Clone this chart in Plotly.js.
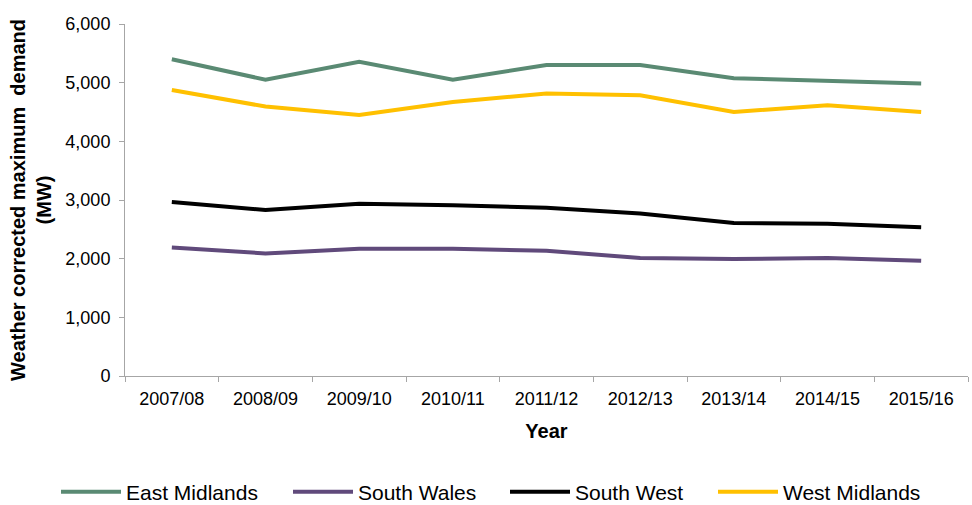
<!DOCTYPE html>
<html><head><meta charset="utf-8">
<script src="https://cdn.plot.ly/plotly-3.0.1.min.js"></script>
<style>body{margin:0;background:#fff}#c{width:972px;height:505px}</style>
</head><body><div id="c"></div>
<script>
const years = ["2007/08","2008/09","2009/10","2010/11","2011/12","2012/13","2013/14","2014/15","2015/16"];
const eastMidlands = [5400,5050,5355,5050,5300,5300,5075,5030,4985];
const southWales = [2190,2090,2170,2170,2135,2012,1995,2012,1966];
const southWest = [2966,2830,2935,2912,2868,2770,2610,2594,2537];
const westMidlands = [4875,4593,4451,4672,4814,4785,4502,4615,4502];
const seriesNames = ["East Midlands","South Wales","South West","West Midlands"];
const colors = ["#5A8A73","#604A7B","#000000","#FFC000"];
const FONT = '"Liberation Sans", Arial, sans-serif';
const legendIds = ['legend','legend2','legend3','legend4'];
const legendX = [56, 288, 505, 713];
const data = [eastMidlands, southWales, southWest, westMidlands].map((v,i)=>({
  x: years, y: v, name: seriesNames[i], type:'scatter', mode:'lines',
  line:{color:colors[i], width:4}, legend: legendIds[i]
}));
const layout = {
  width:972, height:505,
  margin:{l:125,r:4,t:24,b:129, autoexpand:false},
  paper_bgcolor:'#fff', plot_bgcolor:'#fff',
  font:{family:FONT, size:18, color:'#000'},
  xaxis:{
    type:'category', showgrid:false, showline:true, linecolor:'#A6A6A6', linewidth:1,
    ticks:'outside', tickson:'boundaries', ticklen:5, tickcolor:'#A6A6A6',
    tickfont:{size:18}, ticklabelstandoff:6,
    title:{text:'Year', font:{family:FONT, size:20, weight:'bold'}, standoff:16},
    range:[-0.5,8.5], fixedrange:true
  },
  yaxis:{
    range:[0,6000], tickvals:[0,1000,2000,3000,4000,5000,6000],
    tickformat:',d', showgrid:false, zeroline:false, showline:true, linecolor:'#A6A6A6', linewidth:1,
    ticks:'outside', ticklen:5, tickcolor:'#A6A6A6', tickfont:{size:18}, ticklabelstandoff:5,
    title:{text:'Weather corrected maximum  demand<br>(MW)', font:{family:FONT, size:20, weight:'bold'}, standoff:8}
  },
  showlegend:true
};
legendIds.forEach((id,i)=>{
  layout[id] = {orientation:'h', xref:'container', yref:'container', x: legendX[i]/972, xanchor:'left',
    y: 1 - 492/505, yanchor:'middle', font:{size:21}, itemwidth:60, bgcolor:'rgba(0,0,0,0)'};
});
Plotly.newPlot('c', data, layout, {displayModeBar:false, staticPlot:true});
</script></body></html>
